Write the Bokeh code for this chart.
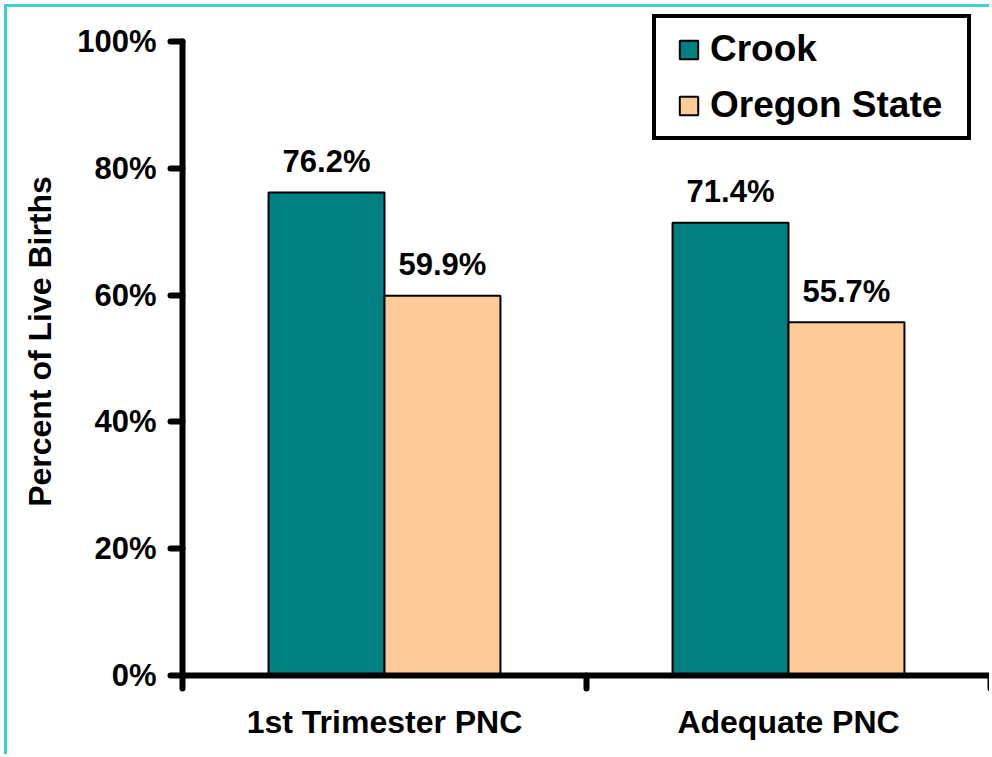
from bokeh.plotting import figure
from bokeh.models import (Range1d, FixedTicker, PrintfTickFormatter, Legend,
                          LegendItem, ColumnDataSource, InlineStyleSheet)
from bokeh.core.properties import value
from bokeh.embed import file_html
from bokeh.resources import INLINE

# ---- data ----
categories = ["1st Trimester PNC", "Adequate PNC"]
series_names = ["Crook", "Oregon State"]
crook = [76.2, 71.4]
oregon = [59.9, 55.7]
y_ticks = [0, 20, 40, 60, 80, 100]

# ---- styling ----
FONT = "Liberation Sans"
TEAL = "#008080"
PEACH = "#FFCC99"
CYAN = "#3FD0D0"
BAR_W = 0.287
W, H = 985, 750
BORDER_L, BORDER_R, BORDER_B = 175, 2, 82
Y_TOP = 100 * (H - BORDER_B) / (H - BORDER_B - 34)   # 100% sits 34px below top

centers = [i + 0.5 for i in range(len(categories))]
crook_x = [c - BAR_W / 2 for c in centers]
oregon_x = [c + BAR_W / 2 for c in centers]

p = figure(width=W, height=H, output_backend="svg", toolbar_location=None,
           x_range=Range1d(0, len(categories)), y_range=Range1d(0, Y_TOP),
           min_border_left=BORDER_L, min_border_right=BORDER_R,
           min_border_top=0, min_border_bottom=BORDER_B)
p.stylesheets = [InlineStyleSheet(css=(
    ":host { border-left: 3px solid %s !important; border-top: 3px solid %s !important;"
    " margin-left: 4px !important; margin-top: 4px !important; }" % (CYAN, CYAN)))]
p.outline_line_color = None
p.xgrid.visible = False
p.ygrid.visible = False
p.background_fill_color = "white"
p.border_fill_color = "white"

src_c = ColumnDataSource(dict(x=crook_x, top=crook,
                              lab=[f"{v:.1f}%" for v in crook]))
src_o = ColumnDataSource(dict(x=oregon_x, top=oregon,
                              lab=[f"{v:.1f}%" for v in oregon]))

r1 = p.vbar(x="x", top="top", bottom=0, width=BAR_W, source=src_c,
            fill_color=TEAL, line_color="black", line_width=2)
r2 = p.vbar(x="x", top="top", bottom=0, width=BAR_W, source=src_o,
            fill_color=PEACH, line_color="black", line_width=2)

for src in (src_c, src_o):
    p.text(x="x", y="top", text="lab", source=src, text_align="center",
           text_baseline="alphabetic", y_offset=-31,
           text_font=value(FONT), text_font_size="31px",
           text_font_style="bold", text_color="black")

# x axis
xa = p.xaxis[0]
xa.ticker = FixedTicker(ticks=centers,
                        minor_ticks=list(range(len(categories) + 1)))
xa.major_label_overrides = {c: lab for c, lab in zip(centers, categories)}
xa.major_tick_line_color = None
xa.major_tick_out = 0
xa.major_tick_in = 0
xa.minor_tick_out = 13
xa.minor_tick_in = 0
xa.minor_tick_line_width = 6
xa.minor_tick_line_color = "black"
xa.minor_tick_line_cap = "round"
xa.axis_line_width = 6
xa.axis_line_color = "black"
xa.axis_line_cap = "round"
xa.major_label_standoff = 15
xa.major_label_text_font = FONT
xa.major_label_text_font_size = "32px"
xa.major_label_text_font_style = "bold"
xa.major_label_text_color = "black"

# y axis
ya = p.yaxis[0]
ya.bounds = (y_ticks[0], y_ticks[-1])
ya.ticker = FixedTicker(ticks=y_ticks, minor_ticks=[])
ya.formatter = PrintfTickFormatter(format="%d%%")
ya.major_tick_out = 12
ya.major_tick_in = 0
ya.major_tick_line_width = 6
ya.major_tick_line_color = "black"
ya.major_tick_line_cap = "round"
ya.minor_tick_line_color = None
ya.axis_line_width = 6
ya.axis_line_color = "black"
ya.axis_line_cap = "round"
ya.major_label_standoff = 14
ya.major_label_text_font = FONT
ya.major_label_text_font_size = "31px"
ya.major_label_text_font_style = "bold"
ya.major_label_text_color = "black"
ya.axis_label = "Percent of Live Births"
ya.axis_label_text_font = FONT
ya.axis_label_text_font_size = "32px"
ya.axis_label_text_font_style = "bold"
ya.axis_label_text_color = "black"
ya.axis_label_standoff = 16

# legend frame (an empty-glyph legend drawn as the box)
r_box = p.vbar(x=[], top=[], width=0.1, fill_alpha=0, line_alpha=0)
box_legend = Legend(items=[LegendItem(label=" ", renderers=[r_box])],
                    location=(470, 535), glyph_width=311, glyph_height=118,
                    label_text_font_size="1px", label_height=0, label_width=0,
                    label_standoff=0, padding=0, spacing=0, margin=0,
                    border_line_color="black", border_line_width=4,
                    border_line_alpha=1,
                    background_fill_color="white", background_fill_alpha=1)
p.add_layout(box_legend, "center")

legend = Legend(items=[LegendItem(label=series_names[0], renderers=[r1]),
                       LegendItem(label=series_names[1], renderers=[r2])],
                location=(495, 549), glyph_width=23, glyph_height=23,
                label_text_font=FONT, label_text_font_size="37px",
                label_text_font_style="bold", label_text_color="black",
                border_line_color=None, background_fill_alpha=0,
                padding=0, spacing=14, label_standoff=10, margin=0)
p.add_layout(legend, "center")

open("out.html", "w").write(file_html(p, INLINE))
